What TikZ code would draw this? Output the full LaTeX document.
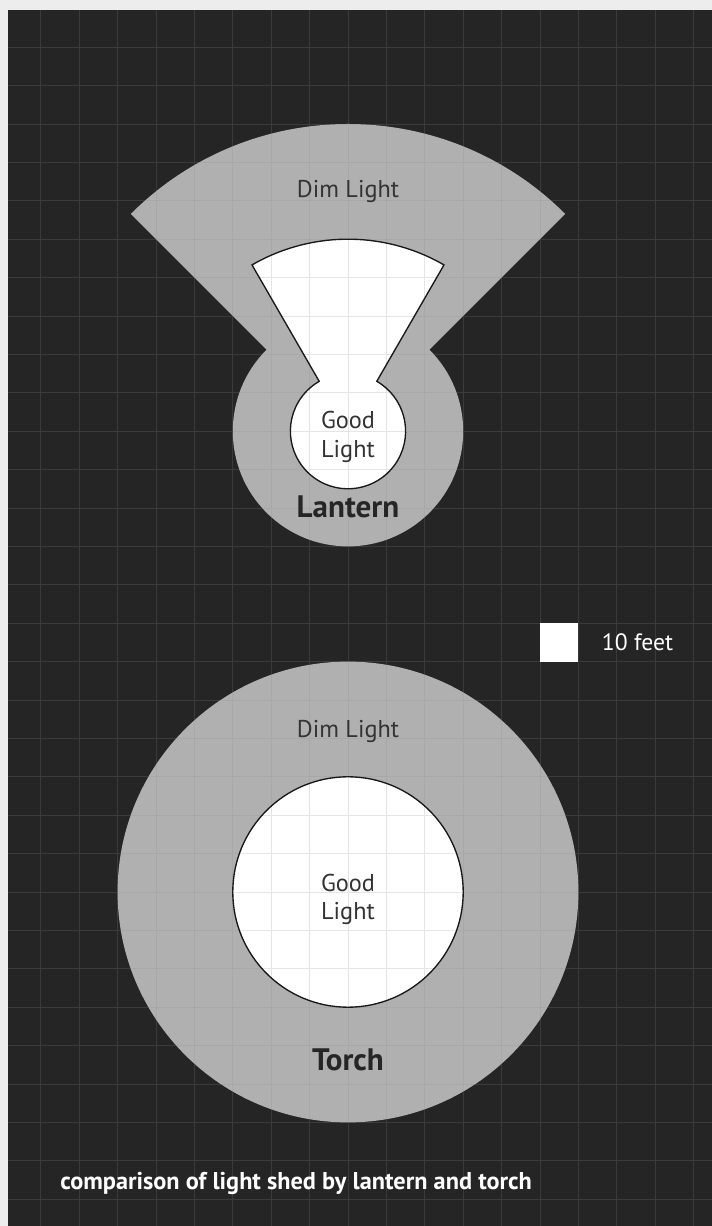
\documentclass[tikz,border=0pt]{standalone}
\usepackage{fontspec}
\setmainfont{PT Sans}
\usepackage{xcolor}
\usepackage{tikz}
\usetikzlibrary{positioning}
\definecolor{boardbg}{HTML}{252525}
\definecolor{dimgray}{HTML}{B0B0B0}
\definecolor{gridgray}{HTML}{8C8C8C}
\definecolor{paper}{HTML}{EDEDED}
\tikzset{
    dimzone/.style={fill=dimgray, draw=none},
    goodzone/.style={fill=white, draw=none},
    rim/.style={draw=black!90, line width=1pt},
    zonelabel/.style={font=\fontsize{18}{21}\selectfont, text=black!80, align=center, inner sep=0pt},
    lightname/.style={font=\fontsize{23}{26}\selectfont\bfseries, text=black!85, inner sep=0pt},
    whitelabel/.style={font=\fontsize{17.5}{20}\selectfont, text=white, inner sep=0pt}
}

\begin{document}
\begin{tikzpicture}
    % page and board
    \useasboundingbox (-9.0625,-8.698) rectangle (9.479,23.229);
    \fill[paper] (-9.0625,-8.698) rectangle (9.479,23.229);
    \fill[boardbg] (-8.85,-8.698) rectangle (9.479,22.97);
    \coordinate (lantern) at (0,12);
    \coordinate (torch) at (0,0);

    % lantern
    \path[dimzone] ([shift={(135:8)}]lantern) arc[start angle=135, end angle=45, radius=8]
        -- ([shift={(45:3)}]lantern) arc[start angle=45, end angle=-225, radius=3] -- cycle;
    \path[goodzone] ([shift={(120:5)}]lantern) arc[start angle=120, end angle=60, radius=5]
        -- ([shift={(60:1.5)}]lantern) arc[start angle=60, end angle=-240, radius=1.5] -- cycle;

    % torch
    \path[dimzone] (torch) circle[radius=6];
    \path[goodzone] (torch) circle[radius=3];

    % grid of 10 ft squares
    \draw[gridgray, opacity=0.22, line width=0.6pt] (-8.85,-8.698) grid (9.479,22.97);

    \draw[rim] ([shift={(120:5)}]lantern) arc[start angle=120, end angle=60, radius=5]
        -- ([shift={(60:1.5)}]lantern) arc[start angle=60, end angle=-240, radius=1.5] -- cycle;
    \draw[rim] (torch) circle[radius=3];

    \node (lanterndim) [zonelabel] at (0,18.23) {Dim Light};
    \node (lanterngood) [zonelabel] at (0,11.85) {Good\\Light};
    \node (lanternname) [lightname] at (0,10.03) {Lantern};
    \node (torchdim) [zonelabel] at (0,4.19) {Dim Light};
    \node (torchgood) [zonelabel] at (0,-0.2) {Good\\Light};
    \node (torchname) [lightname] at (0,-4.375) {Torch};

    \node (scalebox) [fill=white, minimum size=1cm, inner sep=0pt] at (5.5,6.5) {};
    \node (scalelabel) [whitelabel, right=0.6cm of scalebox] {10 feet};
    \node (caption) [whitelabel, font=\fontsize{18}{20}\selectfont\bfseries, anchor=west] at (-7.5,-7.6)
        {comparison of light shed by lantern and torch};
\end{tikzpicture}
\end{document}
